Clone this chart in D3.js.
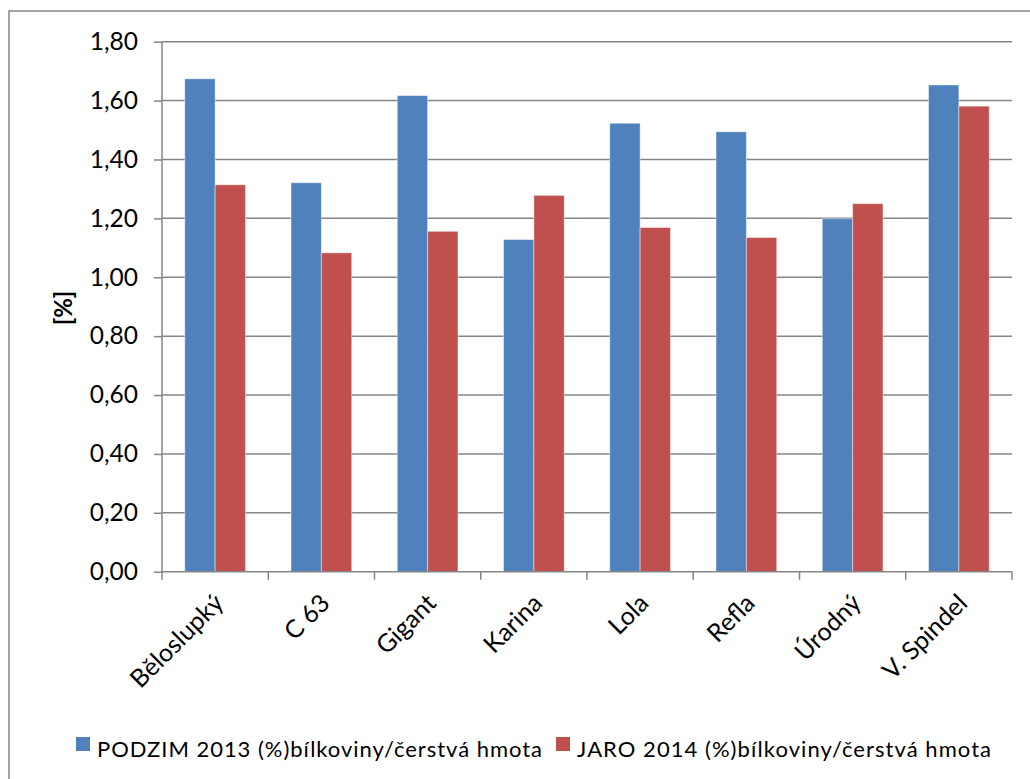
<!DOCTYPE html>
<html><head><meta charset="utf-8">
<script src="https://cdn.jsdelivr.net/npm/d3@7"></script>
<style>body{margin:0;background:#fff}svg{display:block}</style>
</head><body>
<script>
const categories = ["Běloslupký","C 63","Gigant","Karina","Lola","Refla","Úrodný","V. Spindel"];
const seriesNames = ["PODZIM 2013 (%)bílkoviny/čerstvá hmota","JARO 2014 (%)bílkoviny/čerstvá hmota"];
const podzim2013 = [1.674,1.321,1.617,1.128,1.523,1.494,1.199,1.653];
const jaro2014   = [1.314,1.083,1.156,1.278,1.169,1.135,1.250,1.581];
const yTicks = [0,0.2,0.4,0.6,0.8,1.0,1.2,1.4,1.6,1.8];
const colors = ["#4F81BD","#C0504D"];

(function(){
const W=1030,H=779;
const font="Lato, 'Open Sans', sans-serif";
const svg=d3.select("body").append("svg").attr("width",W).attr("height",H);
svg.append("rect").attr("x",9).attr("y",11).attr("width",1100).attr("height",900)
  .attr("fill","#fff").attr("stroke","#868686").attr("stroke-width",1.5);

const pl=162,pr=1012,pt=41.7,pb=571.7;
const x=d3.scaleBand().domain(categories).range([pl,pr]);
const y=d3.scaleLinear().domain([0,1.8]).range([pb,pt]);
const inner=d3.scaleBand().domain([0,1]).range([0,x.bandwidth()]).paddingInner(0).paddingOuter(0.75);

svg.append("g").selectAll("line").data(yTicks.slice(1)).join("line")
  .attr("x1",pl).attr("x2",pr).attr("y1",d=>y(d)).attr("y2",d=>y(d))
  .attr("stroke","#868686").attr("stroke-width",1.5);

const series=[podzim2013,jaro2014];
series.forEach((vals,si)=>{
  svg.append("g").selectAll("rect").data(vals).join("rect")
    .attr("x",(d,i)=>x(categories[i])+inner(si))
    .attr("width",inner.bandwidth())
    .attr("y",d=>y(d)).attr("height",d=>y(0)-y(d))
    .attr("fill",colors[si]).attr("stroke","rgba(255,255,255,0.45)").attr("stroke-width",1);
});

const yAxis=d3.axisLeft(y).tickValues(yTicks).tickSize(8).tickPadding(16)
  .tickFormat(d=>d3.format(".2f")(d).replace(".",","));
const gy=svg.append("g").attr("transform",`translate(${pl},0)`).call(yAxis);
gy.select(".domain").attr("stroke","#868686").attr("stroke-width",1.5).attr("d",`M0,${pt}V${pb}`);
gy.selectAll(".tick line").attr("stroke","#868686").attr("stroke-width",1.5);
gy.selectAll(".tick text").attr("font-family",font).attr("font-size",24.5).attr("fill","#000");

const gx=svg.append("g").attr("transform",`translate(0,${pb})`);
gx.append("line").attr("x1",pl).attr("x2",pr).attr("stroke","#868686").attr("stroke-width",1.5);
const bounds=categories.map(c=>x(c)).concat([pr]);
gx.selectAll("line.tk").data(bounds).join("line").attr("class","tk")
  .attr("x1",d=>d).attr("x2",d=>d).attr("y1",0).attr("y2",8)
  .attr("stroke","#868686").attr("stroke-width",1.5);
gx.selectAll("text").data(categories).join("text")
  .attr("transform",d=>`translate(${x(d)+x.bandwidth()/2+10},${33}) rotate(-45)`)
  .attr("text-anchor","end").attr("font-family",font).attr("font-size",25).attr("fill","#000")
  .text(d=>d);

svg.append("text").attr("transform","translate(72,308) rotate(-90)")
  .attr("text-anchor","middle").attr("font-family",font).attr("font-size",24)
  .attr("font-weight","bold").attr("fill","#000").text("[%]");

const legX=[76,556], legW=[445,414];
seriesNames.forEach((n,i)=>{
  svg.append("rect").attr("x",legX[i]).attr("y",737).attr("width",14).attr("height",14).attr("fill",colors[i]);
  svg.append("text").attr("x",legX[i]+21).attr("y",757).attr("font-family",font).attr("font-size",22)
    .attr("textLength",legW[i]).attr("lengthAdjust","spacing")
    .attr("fill","#000").text(n);
});
})();
</script>
</body></html>
